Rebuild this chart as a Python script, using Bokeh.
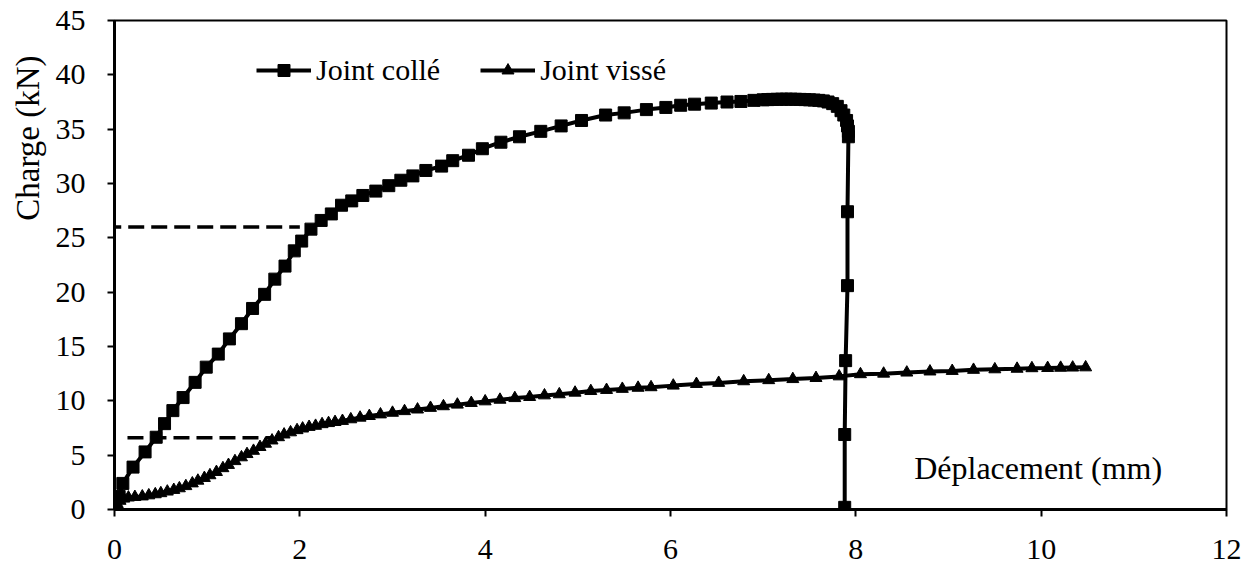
import math
from bokeh.plotting import figure
from bokeh.models import Range1d, FixedTicker, Label, Legend, LegendItem, Title
from bokeh.embed import file_html
from bokeh.resources import INLINE

FONT = "'Liberation Serif'"

# Joint collé (squares)
colle_x = [0.0, 0.05, 0.09, 0.2, 0.33, 0.45, 0.54, 0.63, 0.74, 0.87, 0.99, 1.12, 1.24, 1.37,
           1.49, 1.62, 1.73, 1.84, 1.94, 2.02, 2.12, 2.23, 2.34, 2.45, 2.56, 2.68, 2.82, 2.96,
           3.09, 3.22, 3.36, 3.53, 3.65, 3.82, 3.97, 4.17, 4.37, 4.6, 4.82, 5.04, 5.3, 5.5,
           5.74, 5.95, 6.11, 6.26, 6.44, 6.61, 6.76, 6.9, 7.0, 7.05, 7.1, 7.15, 7.2, 7.25,
           7.3, 7.35, 7.4, 7.45, 7.5, 7.55, 7.6, 7.65, 7.7, 7.75, 7.8, 7.84, 7.87, 7.9,
           7.91, 7.92, 7.92, 7.91, 7.91, 7.89, 7.88, 7.88]
colle_y = [0.0, 1.2, 2.4, 3.9, 5.3, 6.65, 7.9, 9.1, 10.3, 11.7, 13.1, 14.3, 15.7, 17.1,
           18.5, 19.8, 21.2, 22.4, 23.8, 24.7, 25.8, 26.6, 27.2, 28.0, 28.4, 28.9, 29.3, 29.8,
           30.3, 30.7, 31.2, 31.6, 32.1, 32.6, 33.2, 33.8, 34.3, 34.8, 35.3, 35.8, 36.3, 36.5,
           36.8, 37.0, 37.2, 37.3, 37.4, 37.5, 37.55, 37.65, 37.7, 37.72, 37.74, 37.75, 37.76, 37.76,
           37.76, 37.75, 37.74, 37.72, 37.7, 37.68, 37.65, 37.6, 37.5, 37.35, 37.1, 36.7, 36.3, 35.8,
           35.3, 34.8, 34.3, 27.4, 20.6, 13.7, 6.9, 0.2]

# Joint vissé (triangles)
visse_x = [0.0, 0.03, 0.06, 0.1, 0.15, 0.22, 0.3, 0.37, 0.44, 0.5, 0.57, 0.64, 0.7, 0.77,
           0.84, 0.9, 0.97, 1.03, 1.1, 1.17, 1.23, 1.3, 1.37, 1.43, 1.5, 1.57, 1.63, 1.7,
           1.77, 1.83, 1.9, 1.97, 2.03, 2.1, 2.17, 2.24, 2.31, 2.38, 2.46, 2.55, 2.65, 2.75,
           2.87, 3.0, 3.13, 3.27, 3.41, 3.55, 3.7, 3.85, 4.0, 4.16, 4.32, 4.48, 4.64, 4.8,
           4.97, 5.14, 5.31, 5.48, 5.65, 5.79, 6.03, 6.28, 6.52, 6.79, 7.06, 7.32, 7.57, 7.82,
           8.05, 8.3, 8.55, 8.8, 9.04, 9.27, 9.5, 9.74, 9.9, 10.07, 10.21, 10.34, 10.48]
visse_y = [0.0, 0.5, 0.8, 1.0, 1.1, 1.15, 1.2, 1.3, 1.4, 1.5, 1.65, 1.8, 1.95, 2.15,
           2.4, 2.65, 2.9, 3.15, 3.45, 3.8, 4.1, 4.45, 4.8, 5.1, 5.4, 5.75, 6.05, 6.35,
           6.65, 6.9, 7.1, 7.3, 7.45, 7.6, 7.7, 7.85, 7.95, 8.05, 8.15, 8.3, 8.45, 8.6,
           8.75, 8.9, 9.05, 9.2, 9.35, 9.5, 9.65, 9.8, 9.95, 10.1, 10.25, 10.35, 10.5, 10.6,
           10.75, 10.9, 11.0, 11.1, 11.2, 11.25, 11.4, 11.55, 11.65, 11.8, 11.9, 12.0, 12.1, 12.25,
           12.45, 12.5, 12.6, 12.7, 12.75, 12.85, 12.9, 12.95, 13.0, 13.02, 13.04, 13.06, 13.08]

# dashed reference lines
dash_hi_x = [-0.1, 2.0]
dash_hi_y = [26.0, 26.0]
dash_lo_x = [0.14, 1.69]
dash_lo_y = [6.6, 6.6]

x_ticks = [0, 2, 4, 6, 8, 10, 12]
y_ticks = [0, 5, 10, 15, 20, 25, 30, 35, 40, 45]

series_names = ["Joint collé", "Joint vissé"]
x_title = "Déplacement (mm)"
y_title = "Charge (kN)"

p = figure(width=1245, height=572, output_backend="svg", toolbar_location=None,
           x_range=Range1d(0, 12), y_range=Range1d(0, 45),
           min_border_left=113, min_border_right=19, min_border_top=20, min_border_bottom=63)
p.xgrid.visible = False
p.ygrid.visible = False
p.background_fill_color = "white"
p.border_fill_color = "white"
p.outline_line_color = "black"
p.outline_line_width = 2
p.outline_line_alpha = 1

for ax in (p.xaxis[0], p.yaxis[0]):
    ax.axis_line_width = 3
    ax.axis_line_color = "black"
    ax.major_tick_line_width = 2
    ax.major_tick_line_color = "black"
    ax.major_tick_out = 7
    ax.major_tick_in = 0
    ax.minor_tick_out = 0
    ax.minor_tick_in = 0
    ax.major_label_text_font = FONT
    ax.major_label_text_font_size = "30px"
    ax.major_label_text_color = "black"
p.xaxis.ticker = FixedTicker(ticks=x_ticks)
p.yaxis.ticker = FixedTicker(ticks=y_ticks)
p.xaxis.major_label_standoff = 23
p.yaxis.major_label_standoff = 22

p.line(dash_hi_x, dash_hi_y, line_color="black", line_width=3.5, line_dash="16 7")
p.line(dash_lo_x, dash_lo_y, line_color="black", line_width=3.5, line_dash="16 7")

l1 = p.line(colle_x, colle_y, line_color="black", line_width=4)
s1 = p.scatter(colle_x, colle_y, marker="square", size=12, color="black")
l2 = p.line(visse_x, visse_y, line_color="black", line_width=4)
s2 = p.scatter(visse_x, visse_y, marker="triangle", size=12, color="black")

legend = Legend(items=[LegendItem(label=series_names[0], renderers=[l1, s1]),
                       LegendItem(label=series_names[1], renderers=[l2, s2])],
                orientation="horizontal", location=(142, 422),
                padding=0, margin=0, spacing=40, label_standoff=5,
                glyph_width=55, glyph_height=30, label_height=30,
                border_line_color=None, background_fill_alpha=0,
                label_text_font=FONT, label_text_font_size="30px", label_text_color="black")
p.add_layout(legend)

p.add_layout(Label(x=8.63, y=3.8, text=x_title, text_font=FONT, text_font_size="32px",
                   text_align="left", text_baseline="middle", text_color="black"))

ytitle = Title(text=y_title, align="right", offset=35, standoff=14,
               vertical_align="bottom",
               text_font=FONT, text_font_size="33px", text_font_style="normal",
               text_color="black")
p.add_layout(ytitle, "left")

open("out.html", "w").write(file_html(p, INLINE))
